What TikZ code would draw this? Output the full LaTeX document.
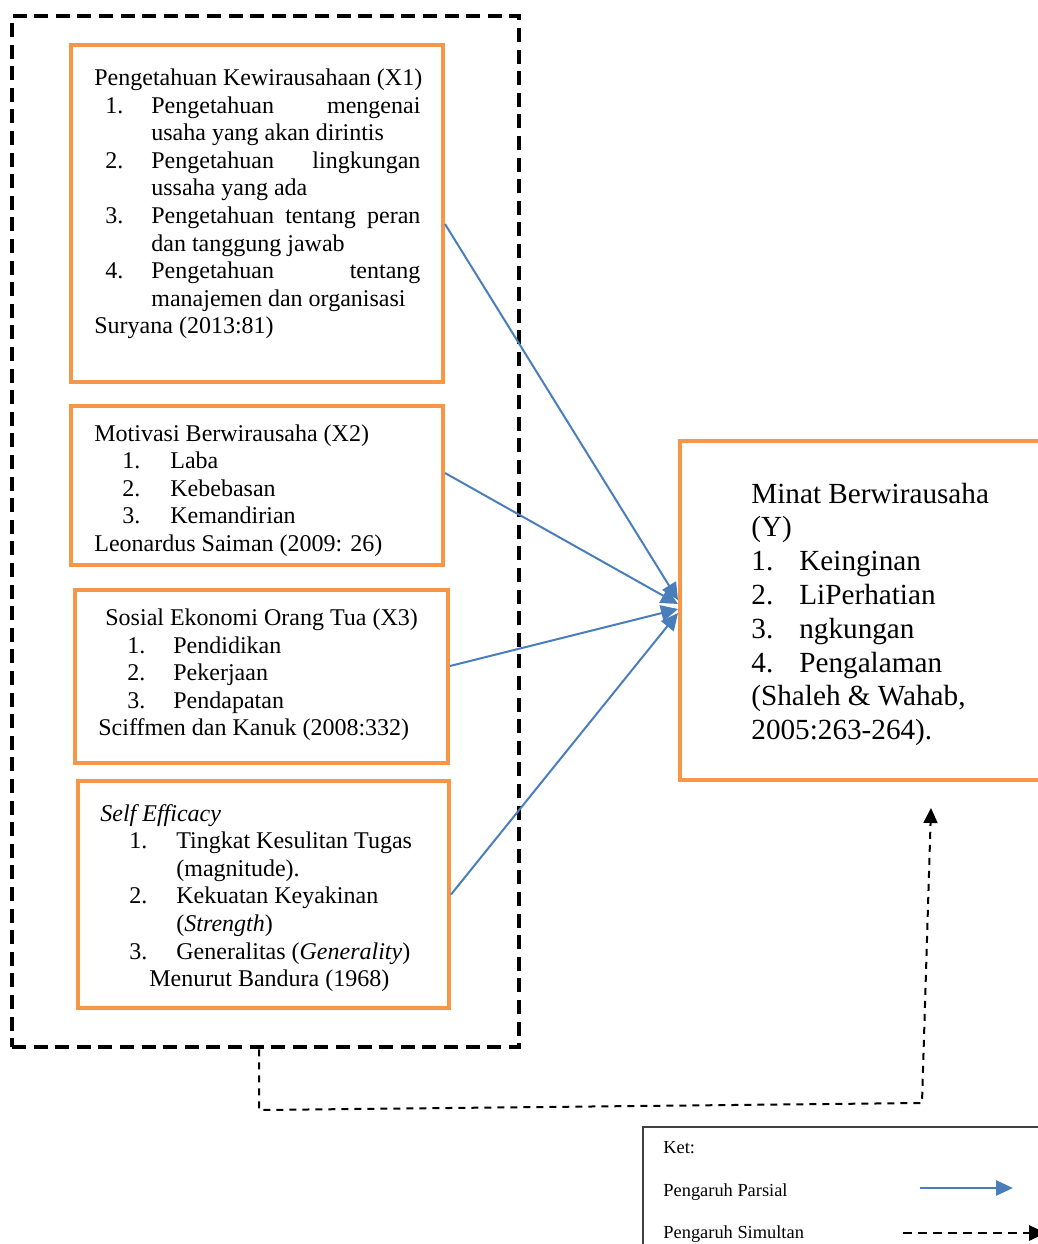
\documentclass[tikz,border=0pt]{standalone}
\usepackage{fontspec}
\setmainfont{Liberation Serif}
\usetikzlibrary{fit,arrows.meta}

\definecolor{boxorange}{HTML}{F79646}
\definecolor{arrowblue}{HTML}{4A7EBB}
\definecolor{ketgray}{HTML}{404040}

\newlength\numin
\newlength\numwd
% number in a fixed box, then the item text
\newcommand{\nitem}[2]{\hspace*{\numin}\makebox[\numwd][l]{#1}#2}

\tikzset{
  obox/.style={draw=boxorange, line width=2pt, inner sep=0pt},
  txt/.style={anchor=north west, inner sep=0pt, align=left, font=\fontsize{12}{13.8}\selectfont},
  listind/.code 2 args={\setlength\numin{#1}\setlength\numwd{#2}},
  partial/.style={draw=arrowblue, line width=1pt, -{Triangle[length=8.5pt,width=8pt]}},
  simul/.style={draw=black, line width=1pt, dash pattern=on 3.5pt off 3pt, -{Triangle[length=7.5pt,width=7pt]}},
}

\begin{document}
\begin{tikzpicture}[x=0.5pt, y=-0.5pt]
  \useasboundingbox (0,0) rectangle (1038,1244);

  % group of independent variables
  \node[draw, line width=2.3pt, dash pattern=on 7pt off 3.8pt, inner sep=0pt, fit={(12,16) (519,1047)}] (grp) {};

  \node[obox, fit={(71,45) (443,382)}] (x1) {};
  \node[obox, fit={(71,406) (443,565)}] (x2) {};
  \node[obox, fit={(75,590) (448,763)}] (x3) {};
  \node[obox, fit={(78,781) (449,1008)}] (x4) {};
  \node[obox, fit={(680,441) (1046,780)}] (y) {};

  \node[txt, listind={5.5pt}{23pt}] (x1t) at (94,65.7) {\strut Pengetahuan Kewirausahaan (X1)\\
    \nitem{1.}{\makebox[134.5pt][s]{Pengetahuan mengenai}}\\
    \nitem{}{usaha yang akan dirintis}\\
    \nitem{2.}{\makebox[134.5pt][s]{Pengetahuan lingkungan}}\\
    \nitem{}{ussaha yang ada}\\
    \nitem{3.}{\makebox[134.5pt][s]{Pengetahuan tentang peran}}\\
    \nitem{}{dan tanggung jawab}\\
    \nitem{4.}{\makebox[134.5pt][s]{Pengetahuan tentang}}\\
    \nitem{}{manajemen dan organisasi}\\
    Suryana (2013:81)};
  \node[txt, listind={14pt}{24pt}] (x2t) at (94,421.4) {\strut Motivasi Berwirausaha (X2)\\
    \nitem{1.}{Laba}\\
    \nitem{2.}{Kebebasan}\\
    \nitem{3.}{Kemandirian}\\
    Leonardus Saiman (2009: 26)};
  \node[txt, listind={14.5pt}{23pt}] (x3t) at (98,605.7) {\strut\hspace*{3.5pt}Sosial Ekonomi Orang Tua (X3)\\
    \nitem{1.}{Pendidikan}\\
    \nitem{2.}{Pekerjaan}\\
    \nitem{3.}{Pendapatan}\\
    Sciffmen dan Kanuk (2008:332)};
  \node[txt, listind={14.5pt}{23.5pt}] (x4t) at (100,801.4) {\strut\textit{Self Efficacy}\\
    \nitem{1.}{Tingkat Kesulitan Tugas}\\
    \nitem{}{(magnitude).}\\
    \nitem{2.}{Kekuatan Keyakinan}\\
    \nitem{}{(\textit{Strength})}\\
    \nitem{3.}{Generalitas (\textit{Generality})}\\
    \hspace*{24.5pt}Menurut Bandura (1968)};
  \node[txt, listind={0pt}{24pt}, font=\fontsize{14.6}{16.9}\selectfont] (yt) at (751,479) {\strut Minat Berwirausaha\\
    (Y)\\
    \nitem{1.}{Keinginan}\\
    \nitem{2.}{LiPerhatian}\\
    \nitem{3.}{ngkungan}\\
    \nitem{4.}{Pengalaman}\\
    (Shaleh \& Wahab,\\
    2005:263-264).};

  % partial effects
  \draw[partial] ([yshift=-5.25pt]x1.east) -- ([yshift=5.25pt]y.west);
  \draw[partial] ([yshift=6.25pt]x2.east) -- ([yshift=3.25pt]y.west);
  \draw[partial] ([yshift=5.25pt]x3.east) -- ([yshift=0.75pt]y.west);
  \draw[partial] (x4.east) -- ([yshift=-1.25pt]y.west);

  % simultaneous effect
  \coordinate (sb1) at (259,1110);
  \coordinate (sb2) at (922,1103);
  \coordinate (ytip) at (931,808);
  \draw[simul] ([xshift=-3.25pt]grp.south) -- (sb1) -- (sb2) -- (ytip);

  % legend
  \node[draw=ketgray, line width=0.6pt, inner sep=0pt, fit={(643,1127) (1060,1270)}] (ket) {};
  \node[anchor=base west, inner sep=0pt, font=\fontsize{9.2}{11}\selectfont] (ket1) at (663,1153) {Ket:};
  \node[anchor=base west, inner sep=0pt, font=\fontsize{9.2}{11}\selectfont] (ket2) at (663,1196) {Pengaruh Parsial};
  \node[anchor=base west, inner sep=0pt, font=\fontsize{9.2}{11}\selectfont] (ket3) at (663,1238) {Pengaruh Simultan};
  \coordinate (lp1) at (920,1188);
  \coordinate (lp2) at (1013,1188);
  \coordinate (ls1) at (903,1233);
  \coordinate (ls2) at (1046,1233);
  \draw[partial, line width=1.4pt, -{Triangle[length=8.5pt,width=7.5pt]}] (lp1) -- (lp2);
  \draw[simul, line width=1.4pt, dash pattern=on 4.5pt off 3pt, -{Triangle[length=8.5pt,width=7.5pt]}] (ls1) -- (ls2);
\end{tikzpicture}
\end{document}
